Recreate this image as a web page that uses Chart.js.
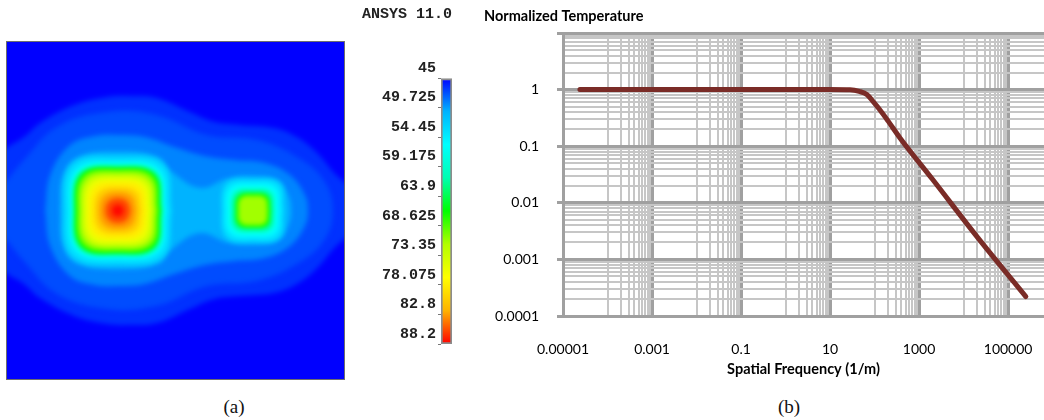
<!DOCTYPE html>
<html>
<head>
<meta charset="utf-8">
<script src="https://cdn.jsdelivr.net/npm/chart.js@4.4.1/dist/chart.umd.min.js"></script>
<style>
  body { margin: 0; width: 1044px; height: 420px; background: #fff; position: relative; overflow: hidden; }
  .box { position: absolute; }
  .cap { position: absolute; top: 396px; line-height: 20px; font: 19px "Liberation Serif", "Times New Roman", serif; color: #111; transform: translateX(-50%); }
</style>
</head>
<body>
<div class="box" style="left:-3px;top:32px;width:357px;height:357px"><canvas id="fieldChart"></canvas></div>
<div class="box" style="left:340px;top:0;width:115px;height:360px"><canvas id="legendChart"></canvas></div>
<div class="box" style="left:484px;top:0;width:560px;height:390px"><canvas id="freqChart"></canvas></div>
<div class="cap" style="left:234px">(a)</div>
<div class="cap" style="left:789px">(b)</div>
<script>
// ---- (a) temperature field, plate coords 0..100 ----
const fieldMin = 45, fieldMax = 88.2;
const legendLabels = ['45', '49.725', '54.45', '59.175', '63.9', '68.625', '73.35', '78.075', '82.8', '88.2'];

// isotherms
const plumeA = [[0,68.8],[5,71.8],[9.8,76],[19.9,81.3],[29.7,83.7],[36.5,84],[44.5,83.4],[54.3,79.2],[61.4,76.3],[69.1,75.4],[79.2,74.5],[86,71.8],[92,67.1],[97.1,61.1],[100,58.5],[104,55],[104,45],[100,41.5],[97.1,38.9],[92,32.9],[86,28.2],[79.2,25.5],[69.1,24.6],[61.4,23.7],[54.3,20.8],[44.5,16.6],[36.5,16],[29.7,16.3],[19.9,18.7],[9.8,24],[5,28.2],[0,31.2],[-4,35],[-4,65]];
const plumeB = [[0,59],[5,65],[14.8,74.8],[29.7,79.2],[44.5,78.3],[59.3,72.4],[74.2,70.9],[86,65.9],[94,59],[96.7,50],[94,41],[86,34.1],[74.2,29.1],[59.3,27.6],[44.5,21.7],[29.7,20.8],[14.8,25.2],[5,35],[0,41],[-4,45],[-4,55]];
const plumeC = [[11.3,50],[12.8,60.5],[18.7,69.4],[26.1,72.1],[32.9,72.4],[40.9,71.8],[49.8,68.8],[58.7,66.2],[67.6,65],[76.5,64.1],[84,60.5],[88.4,54.6],[89.3,50],[88.4,45.4],[84,39.5],[76.5,35.9],[67.6,35],[58.7,33.8],[49.8,31.2],[40.9,28.2],[32.9,27.6],[26.1,27.9],[18.7,30.6],[12.8,39.5]];
const plumeD = [[15.7,50],[16.6,60.5],[21.1,65.9],[32.9,67.4],[44.8,65.9],[49,61.4],[57.3,56.7],[65.6,59.6],[73,60.2],[80.4,59],[83.4,54.6],[84.3,50],[83.4,45.4],[80.4,41],[73,39.8],[65.6,40.4],[57.3,43.3],[49,38.6],[44.8,34.1],[32.9,32.6],[21.1,34.1],[16.6,39.5]];
const big53 = [[48.9,50],[46.5,63.6],[32.9,66],[19.3,63.6],[16.9,50],[19.3,36.4],[32.9,34],[46.5,36.4]];
const big56 = [[47.2,50],[45.1,62.2],[32.9,64.3],[20.7,62.2],[18.6,50],[20.7,37.8],[32.9,35.7],[45.1,37.8]];
const big61 = [[46.3,50],[44.3,61.4],[32.9,63.4],[21.5,61.4],[19.5,50],[21.5,38.6],[32.9,36.6],[44.3,38.6]];
const big66 = [[45.6,50],[43.7,60.8],[32.9,62.7],[22.1,60.8],[20.2,50],[22.1,39.2],[32.9,37.3],[43.7,39.2]];
const big70 = [[44.9,50],[43.1,60.2],[32.9,62],[22.7,60.2],[20.9,50],[22.7,39.8],[32.9,38],[43.1,39.8]];
const big73 = [[43.9,50],[42.2,59.3],[32.9,61],[23.6,59.3],[21.9,50],[23.6,40.7],[32.9,39],[42.2,40.7]];
const big76 = [[42.7,50],[41.1,58.2],[32.9,59.8],[24.7,58.2],[23.1,50],[24.7,41.8],[32.9,40.2],[41.1,41.8]];
const big78 = [[41.4,50],[39.9,57],[32.9,58.5],[25.9,57],[24.4,50],[25.9,43],[32.9,41.5],[39.9,43]];
const big81 = [[39.9,50],[38.5,55.6],[32.9,57],[27.3,55.6],[25.9,50],[27.3,44.4],[32.9,43],[38.5,44.4]];
const big83 = [[38.4,50],[37.1,54.2],[32.9,55.5],[28.7,54.2],[27.4,50],[28.7,45.8],[32.9,44.5],[37.1,45.8]];
const big86 = [[36.7,50],[35.6,52.8],[32.9,53.8],[30.2,52.8],[29.1,50],[30.2,47.2],[32.9,46.2],[35.6,47.2]];
const big88 = [[34.7,50],[34.2,51.3],[32.9,51.8],[31.6,51.3],[31.1,50],[31.6,48.7],[32.9,48.2],[34.2,48.7]];
const small53 = [[82.3,50],[80.9,58],[73,59.3],[65.1,58],[63.7,50],[65.1,42],[73,40.7],[80.9,42]];
const small56 = [[80.9,50],[79.7,56.7],[73,57.9],[66.3,56.7],[65.1,50],[66.3,43.3],[73,42.1],[79.7,43.3]];
const small61 = [[79.5,50],[78.5,55.5],[73,56.5],[67.5,55.5],[66.5,50],[67.5,44.5],[73,43.5],[78.5,44.5]];
const small66 = [[78.2,50],[77.4,54.4],[73,55.2],[68.6,54.4],[67.8,50],[68.6,45.6],[73,44.8],[77.4,45.6]];
const small71 = [[77.4,50],[76.7,53.7],[73,54.4],[69.3,53.7],[68.6,50],[69.3,46.3],[73,45.6],[76.7,46.3]];

const isoLevels = [46.5, 47.3, 49, 50.5, 53.5, 55.8, 61, 66.5, 70, 73, 76, 78.5, 81, 83.5, 86, 88, 53.5, 55.8, 61, 66.5, 71.5];
const isoShapes = [plumeA, plumeB, plumeC, plumeD, big53, big56, big61, big66, big70, big73, big76, big78, big81, big83, big86, big88, small53, small56, small61, small66, small71];

// ---- (b) normalized temperature spectrum ----
const freq = [2.4e-5, 1e-3, 0.1, 10, 28, 45, 67, 95, 131, 200, 372, 2000, 2.1e4, 2.5e5];
const normTemp = [1, 1, 1, 1, 0.99, 0.93, 0.82, 0.6, 0.44, 0.28, 0.14, 0.026, 0.0024, 0.00022];
const xMajor = [1e-5, 1e-3, 0.1, 10, 1000, 1e5];
const xLabels = ['0.00001', '0.001', '0.1', '10', '1000', '100000'];
const xMinorSteps = [10, 20, 30, 40, 50, 60, 70, 80, 90];
const yMajor = [1e-4, 1e-3, 0.01, 0.1, 1, 10];
const yLabels = ['0.0001', '0.001', '0.01', '0.1', '1', ''];
const yMinorSteps = [2, 3, 4, 5, 6, 7, 8, 9];

// ANSYS 9-band spectrum
const spectrum = [[0, [0, 0, 255]], [0.125, [0, 178, 255]], [0.25, [0, 255, 255]], [0.375, [0, 255, 178]], [0.5, [0, 255, 0]],
                  [0.625, [178, 255, 0]], [0.75, [255, 255, 0]], [0.875, [255, 178, 0]], [1, [255, 0, 0]]];
function spectrumColor(f) {
    f = Math.max(0, Math.min(1, f));
    for (let i = 1; i < spectrum.length; i++) {
        if (f <= spectrum[i][0]) {
            const [f0, c0] = spectrum[i - 1], [f1, c1] = spectrum[i];
            const t = (f - f0) / (f1 - f0);
            const c = c0.map((v, k) => Math.round(v + (c1[k] - v) * t));
            return `rgb(${c[0]},${c[1]},${c[2]})`;
        }
    }
    return 'rgb(255,0,0)';
}
const tempColor = t => spectrumColor((t - fieldMin) / (fieldMax - fieldMin));

const fieldLook = {
    id: 'fieldLook',
    beforeDraw(chart) {
        const { ctx, chartArea: a } = chart;
        ctx.save();
        ctx.fillStyle = tempColor(fieldMin);
        ctx.fillRect(a.left, a.top, a.width, a.height);
        ctx.restore();
    },
    beforeDatasetsDraw(chart) {
        chart.ctx.save();
        chart.ctx.filter = 'blur(2.5px)';   // smooth the bands
    },
    afterDatasetsDraw(chart) {
        chart.ctx.restore();
    },
    afterDraw(chart) {
        const { ctx, chartArea: a } = chart;
        ctx.save();
        ctx.strokeStyle = '#6e6e6e';
        ctx.lineWidth = 1;
        ctx.strokeRect(a.left - 0.5, a.top - 0.5, a.width + 1, a.height + 1);
        ctx.restore();
    }
};

new Chart(document.getElementById('fieldChart'), {
    type: 'line',
    data: {
        datasets: isoShapes.map((pts, i) => ({
            data: pts.concat([pts[0]]).map(([x, y]) => ({ x, y })),
            fill: 'shape',
            backgroundColor: tempColor(isoLevels[i]),
            borderColor: 'rgba(0,0,0,0)',
            borderWidth: 0,
            pointRadius: 0,
            tension: 0.4,
            order: -isoLevels[i]
        }))
    },
    options: {
        animation: false,
        responsive: true,
        maintainAspectRatio: false,
        events: [],
        layout: { padding: 10 },
        plugins: { legend: { display: false }, tooltip: { enabled: false } },
        scales: {
            x: { type: 'linear', min: 0, max: 100, display: false },
            y: { type: 'linear', min: 0, max: 100, display: false }
        }
    },
    plugins: [fieldLook]
});

// colour legend
const monoFont = { family: '"Liberation Mono", "Courier New", monospace', size: 15, weight: 'bold' };
new Chart(document.getElementById('legendChart'), {
    type: 'bar',
    data: {
        labels: [''],
        datasets: [{
            data: [[0, legendLabels.length - 1]],
            backgroundColor: c => {
                const a = c.chart.chartArea;
                if (!a) return 'blue';
                const g = c.chart.ctx.createLinearGradient(0, a.top, 0, a.bottom);
                spectrum.forEach(([f, rgb]) => g.addColorStop(f, `rgb(${rgb.join(',')})`));
                return g;
            },
            borderColor: '#8c8c8c',
            borderWidth: 2,
            borderSkipped: false,
            barPercentage: 1,
            categoryPercentage: 1
        }]
    },
    options: {
        animation: false,
        responsive: true,
        maintainAspectRatio: false,
        events: [],
        layout: { padding: { right: 3, bottom: 16 } },
        plugins: {
            legend: { display: false },
            tooltip: { enabled: false },
            title: {
                display: true, text: 'ANSYS 11.0', align: 'end', color: '#222',
                font: monoFont, padding: { top: 5, bottom: 55 }
            }
        },
        scales: {
            x: { display: false },
            y: {
                min: 0, max: legendLabels.length - 1, reverse: true,
                afterFit: s => { s.width = 101; },
                afterBuildTicks: s => { s.ticks = legendLabels.map((_, i) => ({ value: i })); },
                ticks: { callback: (v, i) => legendLabels[i], labelOffset: -10, padding: 2, color: '#222', font: monoFont },
                grid: { drawOnChartArea: false, tickLength: 3, color: '#777' },
                border: { display: false }
            }
        }
    }
});

// spectrum chart
const sameLog = (a, b) => Math.abs(Math.log10(a) - Math.log10(b)) < 1e-6;
const isXMajor = v => xMajor.some(m => sameLog(m, v));
const isYMajor = v => yMajor.some(m => sameLog(m, v));
const calibri = 'Lato, "Open Sans", sans-serif';
const majorGrid = '#a0a0a0', minorGrid = '#c6c6c6';

new Chart(document.getElementById('freqChart'), {
    type: 'line',
    data: {
        datasets: [{
            data: freq.map((f, i) => ({ x: f, y: normTemp[i] })),
            borderColor: '#7a2c27',
            borderWidth: 5,
            borderCapStyle: 'round',
            pointRadius: 0,
            cubicInterpolationMode: 'monotone',
            fill: false
        }]
    },
    options: {
        animation: false,
        responsive: true,
        maintainAspectRatio: false,
        events: [],
        plugins: {
            legend: { display: false },
            tooltip: { enabled: false },
            title: {
                display: true, text: 'Normalized Temperature', align: 'start', color: '#000',
                font: { family: calibri, size: 14.5, weight: 'bold' },
                padding: { top: 7.3, bottom: 8.3 }
            }
        },
        scales: {
            x: {
                type: 'logarithmic', min: 1e-5, max: 6.4e5,
                afterFit: s => { s.height = 74; },
                afterBuildTicks: s => {
                    const vals = [];
                    xMajor.forEach(m => { vals.push(m); xMinorSteps.forEach(k => vals.push(m * k)); });
                    s.ticks = vals.filter(v => v <= s.max).map(v => ({ value: v }));
                },
                ticks: {
                    autoSkip: false, maxRotation: 0, padding: 0, color: '#000',
                    font: { family: calibri, size: 14 },
                    callback: v => { const i = xMajor.findIndex(m => sameLog(m, v)); return i >= 0 ? xLabels[i] : ''; }
                },
                grid: {
                    tickLength: 25,
                    tickColor: 'rgba(0,0,0,0)',
                    color: c => isXMajor(c.tick.value) ? majorGrid : minorGrid,
                    lineWidth: c => isXMajor(c.tick.value) ? 3 : 2
                },
                border: { color: majorGrid, width: 3 },
                title: {
                    display: true, text: 'Spatial Frequency (1/m)', color: '#000',
                    font: { family: calibri, size: 14.5, weight: 'bold' },
                    padding: { top: 0, bottom: 12 }
                }
            },
            y: {
                type: 'logarithmic', min: 1e-4, max: 10,
                afterFit: s => { s.width = 79; },
                afterBuildTicks: s => {
                    const vals = [];
                    yMajor.forEach(m => { vals.push(m); yMinorSteps.forEach(k => vals.push(m * k)); });
                    s.ticks = vals.filter(v => v <= s.max * 1.0001).map(v => ({ value: v }));
                },
                ticks: {
                    autoSkip: false, padding: 18, color: '#000',
                    font: { family: calibri, size: 14 },
                    callback: v => { const i = yMajor.findIndex(m => sameLog(m, v)); return i >= 0 ? yLabels[i] : ''; }
                },
                grid: {
                    tickLength: 6,
                    tickWidth: 3,
                    tickColor: c => isYMajor(c.tick.value) ? majorGrid : 'rgba(0,0,0,0)',
                    color: c => isYMajor(c.tick.value) ? majorGrid : minorGrid,
                    lineWidth: c => isYMajor(c.tick.value) ? 3 : 2
                },
                border: { color: majorGrid, width: 3 }
            }
        }
    }
});
</script>
</body>
</html>
